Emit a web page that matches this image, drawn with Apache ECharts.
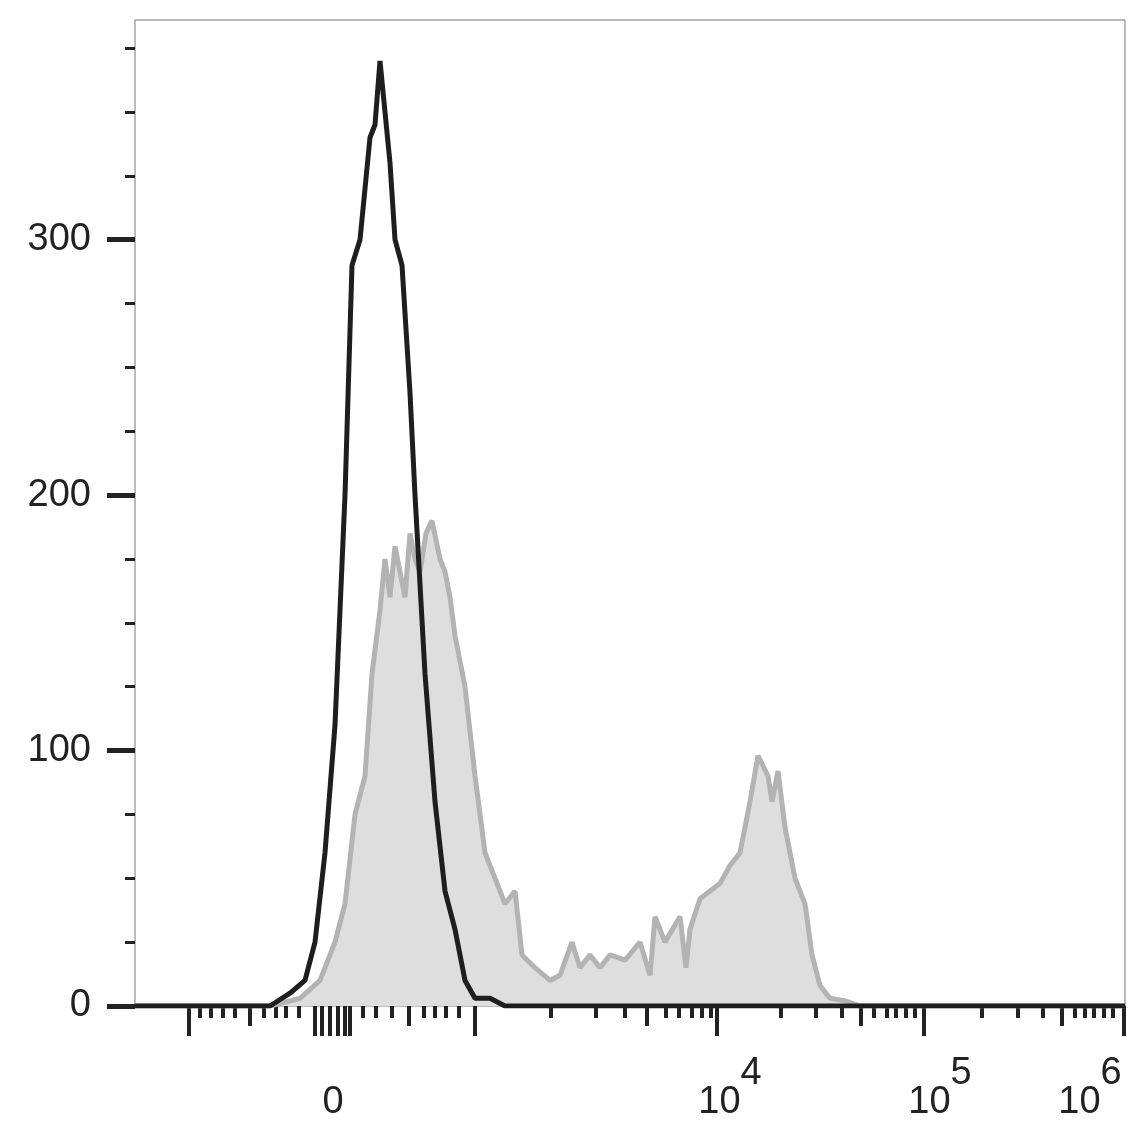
<!DOCTYPE html>
<html>
<head>
<meta charset="utf-8">
<script src="https://cdn.jsdelivr.net/npm/echarts@6/dist/echarts.min.js"></script>
<style>html,body{margin:0;padding:0;background:#fff}#chart{width:1144px;height:1138px}</style>
</head>
<body>
<div id="chart"></div>
<script>
// x is the display channel (pixel-like scale), y is count
var blackX = [135, 270, 290, 305, 315, 325, 335, 345, 352, 360, 370, 375, 380, 385, 390, 395, 402, 410, 415, 425, 435, 445, 455, 465, 475, 490, 505, 1125];
var blackY = [0, 0, 5, 10, 25, 60, 110, 200, 290, 300, 340, 345, 370, 350, 330, 300, 290, 240, 200, 130, 80, 45, 30, 10, 3, 3, 0, 0];

var grayX = [135, 270, 300, 320, 335, 345, 355, 365, 372, 380, 385, 390, 395, 400, 405, 410, 415, 420, 426, 432, 440, 445, 450, 455, 465, 475, 485, 495, 505, 515, 522, 535, 550, 560, 572, 580, 590, 600, 610, 625, 640, 650, 655, 665, 680, 686, 690, 700, 710, 720, 730, 740, 750, 758, 768, 772, 778, 785, 795, 805, 812, 820, 830, 845, 860, 1125];
var grayY = [0, 0, 3, 10, 25, 40, 75, 90, 130, 155, 175, 160, 180, 170, 160, 185, 175, 170, 185, 190, 175, 170, 160, 145, 125, 90, 60, 50, 40, 45, 20, 15, 10, 12, 25, 15, 20, 15, 20, 18, 25, 12, 35, 25, 35, 15, 30, 42, 45, 48, 55, 60, 80, 98, 90, 80, 92, 70, 50, 40, 20, 8, 3, 2, 0, 0];

var majorTicks = [189, 315, 322, 330, 338, 345, 350, 475, 717, 924, 1124];
var midTicks = [250, 409, 647, 861, 1062];
var minorTicks = [200, 211, 223, 235, 264, 276, 286, 299, 363, 376, 392, 424, 435, 446, 459,
  551, 596, 625, 666, 679, 692, 702, 711, 781, 816, 842, 874, 887, 896, 906, 915,
  982, 1018, 1043, 1075, 1085, 1094, 1104, 1113];
var xLabelPos = [333, 730, 940, 1090];
var xLabelText = ['0', '10^4', '10^5', '10^6'];
var yMajor = [0, 100, 200, 300];
var yMinor = [25, 50, 75, 125, 150, 175, 225, 250, 275, 325, 350, 375];

function zip(xs, ys) {
  var out = [];
  for (var i = 0; i < xs.length; i++) out.push([xs[i], ys[i]]);
  return out;
}

var font = 'Liberation Sans, Arial';

function tickAxis(vals, len, labels) {
  return {
    type: 'value', min: 135, max: 1125, position: 'bottom',
    axisLine: { show: false },
    splitLine: { show: false },
    axisTick: { show: true, customValues: vals, length: len, lineStyle: { color: '#222', width: 4 } },
    axisLabel: labels ? {
      show: true, customValues: xLabelPos, margin: 44, color: '#222', fontSize: 38, fontFamily: font,
      formatter: function (v) {
        var t = xLabelText[xLabelPos.indexOf(v)];
        if (t.indexOf('^') < 0) return '{n|' + t + '}';
        var p = t.split('^');
        return '{n|' + p[0] + '}{s|' + p[1] + '}';
      },
      rich: {
        n: { fontSize: 38, color: '#222', fontFamily: font, padding: [34, 0, 0, 0] },
        s: { fontSize: 38, color: '#222', fontFamily: font, padding: [0, 0, 24, 0] }
      }
    } : { show: false }
  };
}

function yAxis(ticks, len, width, labels) {
  return {
    type: 'value', min: 0, max: 386, position: 'left',
    axisLine: { show: false },
    splitLine: { show: false },
    axisTick: { show: true, customValues: ticks, length: len, lineStyle: { color: '#222', width: width } },
    axisLabel: labels ? { customValues: ticks, margin: 44, color: '#222', fontSize: 38, fontFamily: font } : { show: false }
  };
}

var chart = echarts.init(document.getElementById('chart'));
chart.setOption({
  animation: false,
  backgroundColor: '#fff',
  grid: { left: 135, right: 19, top: 20, bottom: 132, show: true, borderColor: '#777', borderWidth: 1 },
  xAxis: [
    tickAxis(majorTicks, 30, true),
    tickAxis(midTicks, 20, false),
    tickAxis(minorTicks, 12, false)
  ],
  yAxis: [
    yAxis(yMajor, 28, 5, true),
    yAxis(yMinor, 10, 3, false)
  ],
  series: [{
    type: 'line', data: zip(grayX, grayY), symbol: 'none', z: 2,
    lineStyle: { color: '#b3b3b3', width: 5 },
    areaStyle: { color: '#dedede', opacity: 1 }
  }, {
    type: 'line', data: zip(blackX, blackY), symbol: 'none', z: 3,
    lineStyle: { color: '#1e1e1e', width: 5 }
  }]
});
</script>
</body>
</html>
